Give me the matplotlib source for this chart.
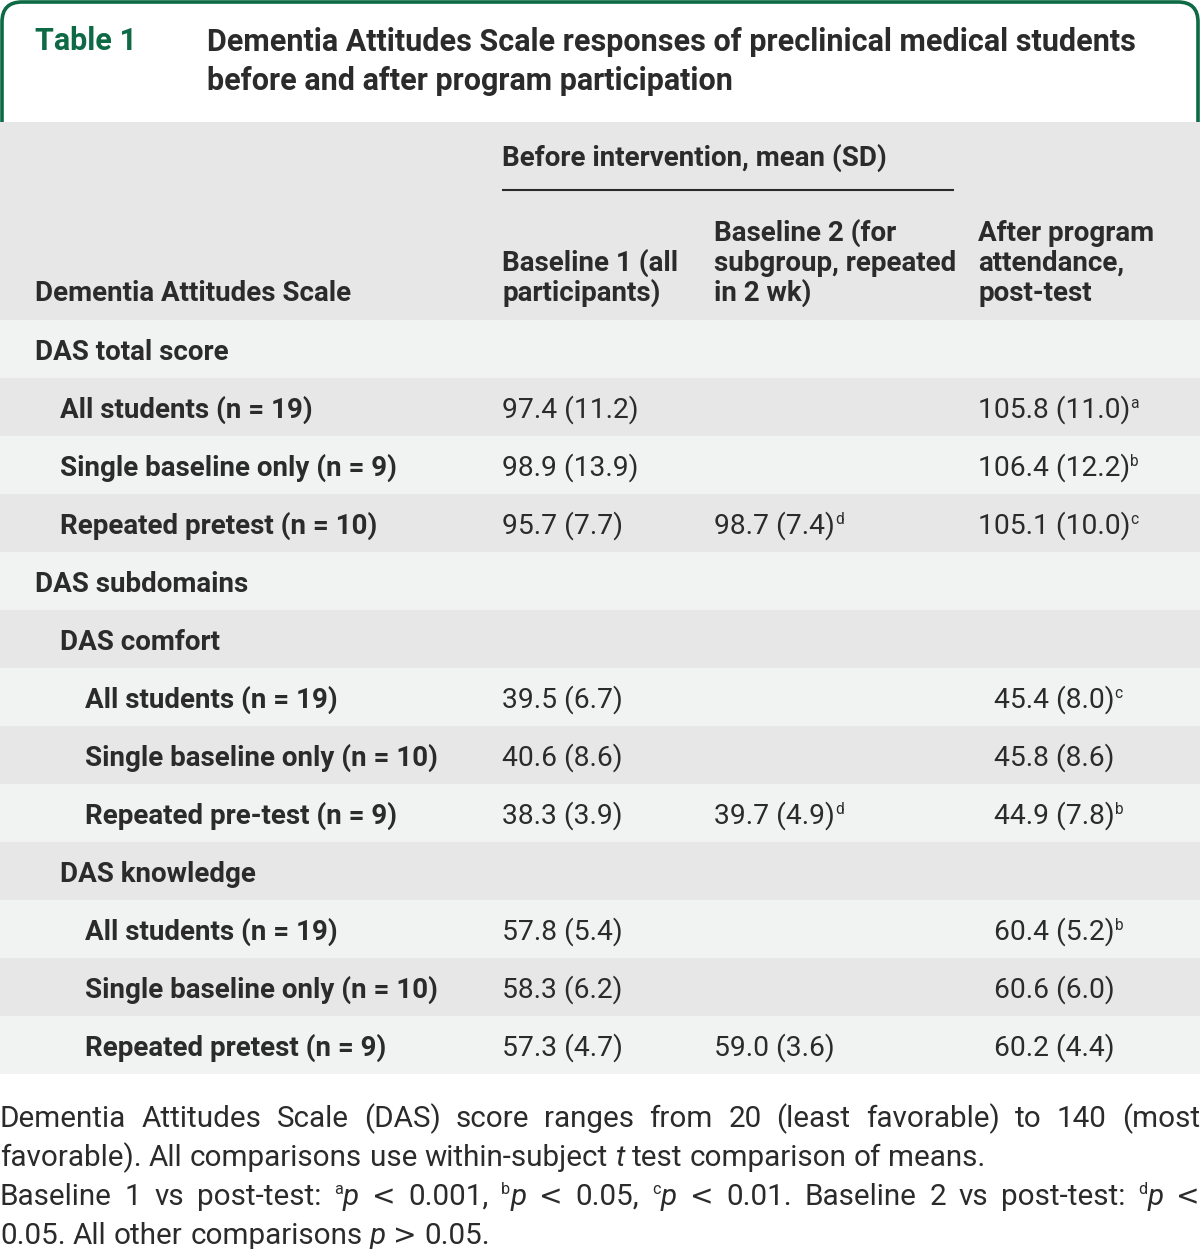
import matplotlib.pyplot as plt
from matplotlib.patches import Rectangle, PathPatch
from matplotlib.path import Path

plt.rcParams['font.family'] = ['Roboto', 'DejaVu Sans']

# datos de la tabla
table_no = "Table 1"
title_lines = ["Dementia Attitudes Scale responses of preclinical medical students",
               "before and after program participation"]
span_header = "Before intervention, mean (SD)"
col_headers = [["Dementia Attitudes Scale"],
               ["Baseline 1 (all", "participants)"],
               ["Baseline 2 (for", "subgroup, repeated", "in 2 wk)"],
               ["After program", "attendance,", "post-test"]]

row_labels = ["DAS total score", "All students (n = 19)", "Single baseline only (n = 9)",
              "Repeated pretest (n = 10)", "DAS subdomains", "DAS comfort",
              "All students (n = 19)", "Single baseline only (n = 10)",
              "Repeated pre-test (n = 9)", "DAS knowledge", "All students (n = 19)",
              "Single baseline only (n = 10)", "Repeated pretest (n = 9)"]
row_levels = [0, 1, 1, 1, 0, 1, 2, 2, 2, 1, 2, 2, 2]
baseline1 = ["", "97.4 (11.2)", "98.9 (13.9)", "95.7 (7.7)", "", "",
             "39.5 (6.7)", "40.6 (8.6)", "38.3 (3.9)", "",
             "57.8 (5.4)", "58.3 (6.2)", "57.3 (4.7)"]
baseline2 = ["", "", "", "98.7 (7.4)", "", "", "", "", "39.7 (4.9)", "",
             "", "", "59.0 (3.6)"]
baseline2_marks = ["", "", "", "d", "", "", "", "", "d", "", "", "", ""]
post_test = ["", "105.8 (11.0)", "106.4 (12.2)", "105.1 (10.0)", "", "",
             "45.4 (8.0)", "45.8 (8.6)", "44.9 (7.8)", "",
             "60.4 (5.2)", "60.6 (6.0)", "60.2 (4.4)"]
post_marks = ["", "a", "b", "c", "", "", "c", "", "b", "", "b", "", ""]

# notas: (texto, tipo) n=normal, i=italica, s=superindice, m=simbolo
note_lines = [
    ([[("Dementia", "n")], [("Attitudes", "n")], [("Scale", "n")], [("(DAS)", "n")],
      [("score", "n")], [("ranges", "n")], [("from", "n")], [("20", "n")],
      [("(least", "n")], [("favorable)", "n")], [("to", "n")], [("140", "n")],
      [("(most", "n")]], True),
    ([[("favorable).", "n")], [("All", "n")], [("comparisons", "n")], [("use", "n")],
      [("within-subject", "n")], [("t", "i")], [("test", "n")], [("comparison", "n")],
      [("of", "n")], [("means.", "n")]], False),
    ([[("Baseline", "n")], [("1", "n")], [("vs", "n")], [("post-test:", "n")],
      [("a", "s"), ("p", "i")], [("<", "m")], [("0.001,", "n")],
      [("b", "s"), ("p", "i")], [("<", "m")], [("0.05,", "n")],
      [("c", "s"), ("p", "i")], [("<", "m")], [("0.01.", "n")],
      [("Baseline", "n")], [("2", "n")], [("vs", "n")], [("post-test:", "n")],
      [("d", "s"), ("p", "i")], [("<", "m")]], True),
    ([[("0.05.", "n")], [("All", "n")], [("other", "n")], [("comparisons", "n")],
      [("p", "i")], [(">", "m")], [("0.05.", "n")]], False),
]

TXT = '#2b2b2b'
GREEN = '#0d6a45'
GRAY = '#e7e7e7'
LIGHT = '#f1f2f2'
FS = 20.3     # valores de la tabla
BFS = 20.0    # etiquetas en negrita
TFS = 22      # titulo
NFS = 21.3    # notas al pie

fig = plt.figure(figsize=(12, 12.49), dpi=100)
ax = fig.add_axes([0, 0, 1, 1])
ax.set_xlim(0, 1200)
ax.set_ylim(1249, 0)
ax.axis('off')
rend = fig.canvas.get_renderer()
inv = ax.transData.inverted()


def ancho(t):
    # ancho del texto en unidades de datos (pixeles)
    bb = t.get_window_extent(renderer=rend)
    (x0, _), (x1, _) = inv.transform([[bb.x0, 0], [bb.x1, 0]])
    return x1 - x0


def estilo(kind):
    if kind == 's':
        return dict(fontsize=NFS * 0.55)
    if kind == 'i':
        return dict(fontsize=NFS, style='italic')
    if kind == 'm':
        return dict(fontsize=NFS * 0.95, family=['DejaVu Sans'])
    return dict(fontsize=NFS)


def medir(s, **kw):
    # mide un texto sin dejarlo en la figura
    t = ax.text(0, 600, s, **kw)
    w = ancho(t)
    t.remove()
    return w


def texto_sup(x, y, s, mark, fs=FS):
    t = ax.text(x, y, s, fontsize=fs, color=TXT, va='baseline')
    if mark:
        ax.text(x + ancho(t), y - 0.5 * fs, mark, fontsize=fs * 0.55, color=TXT,
                va='baseline')
    return t


# cuadro verde del titulo
r = 20
x0, x1, y0, yb = 2, 1198, 2, 122
verts = [(x0, yb), (x0, y0 + r), (x0, y0), (x0 + r, y0), (x1 - r, y0),
         (x1, y0), (x1, y0 + r), (x1, yb)]
codes = [Path.MOVETO, Path.LINETO, Path.CURVE3, Path.CURVE3, Path.LINETO,
         Path.CURVE3, Path.CURVE3, Path.LINETO]
ax.add_patch(PathPatch(Path(verts, codes), fill=False, edgecolor=GREEN,
                       lw=2.6, clip_on=False))
ax.text(35, 50, table_no, fontsize=TFS, weight='bold', color=GREEN, va='baseline')
for k, line in enumerate(title_lines):
    ax.text(207, 51 + 39 * k, line, fontsize=TFS, weight='bold', color=TXT,
            va='baseline')

# fondos
ax.add_patch(Rectangle((0, 122), 1200, 198, color=GRAY, lw=0))
row_h = 58
top = 320
for i in range(len(row_labels)):
    ax.add_patch(Rectangle((0, top + row_h * i), 1200, row_h,
                           color=LIGHT if i % 2 == 0 else GRAY, lw=0))

# encabezados
col_x = [35, 502, 714, 978]
ax.text(502, 166, span_header, fontsize=BFS, weight='bold', color=TXT, va='baseline')
ax.plot([502, 954], [190, 190], color=TXT, lw=1.5, solid_capstyle='butt')
for cx, lines in zip(col_x, col_headers):
    n = len(lines)
    for k, line in enumerate(lines):
        ax.text(cx, 301 - 30 * (n - 1 - k), line, fontsize=BFS, weight='bold',
                color=TXT, va='baseline')

# alineacion decimal por columna
digit_w = medir("0", fontsize=FS)

cols = [(baseline1, [""] * len(baseline1), col_x[1]),
        (baseline2, baseline2_marks, col_x[2]),
        (post_test, post_marks, col_x[3])]

for i, lab in enumerate(row_labels):
    yb_ = top + row_h * i + 40
    ax.text(35 + 25 * row_levels[i], yb_, lab, fontsize=BFS, weight='bold',
            color=TXT, va='baseline')
    for vals, marks, cx in cols:
        v = vals[i]
        if not v:
            continue
        n_int = max(len(s.split('.')[0]) for s in vals if s)
        shift = (n_int - len(v.split('.')[0])) * digit_w
        texto_sup(cx + shift, yb_, v, marks[i])

# notas al pie
space_w = medir("a a", fontsize=NFS) - medir("aa", fontsize=NFS)
for k, (words, justify) in enumerate(note_lines):
    yb_ = 1127 + 39 * k
    widths = [sum(medir(s, **estilo(kind)) for s, kind in w) for w in words]
    if justify:
        gap = (1200 - sum(widths)) / (len(words) - 1)
    else:
        gap = space_w
    x = 0
    for w, wd in zip(words, widths):
        xc = x
        for s, kind in w:
            dy = 0.5 * NFS if kind == 's' else 0
            t = ax.text(xc, yb_ - dy, s, color=TXT, va='baseline', **estilo(kind))
            xc += ancho(t)
        x += wd + gap

fig.savefig("out.png", dpi=100)
